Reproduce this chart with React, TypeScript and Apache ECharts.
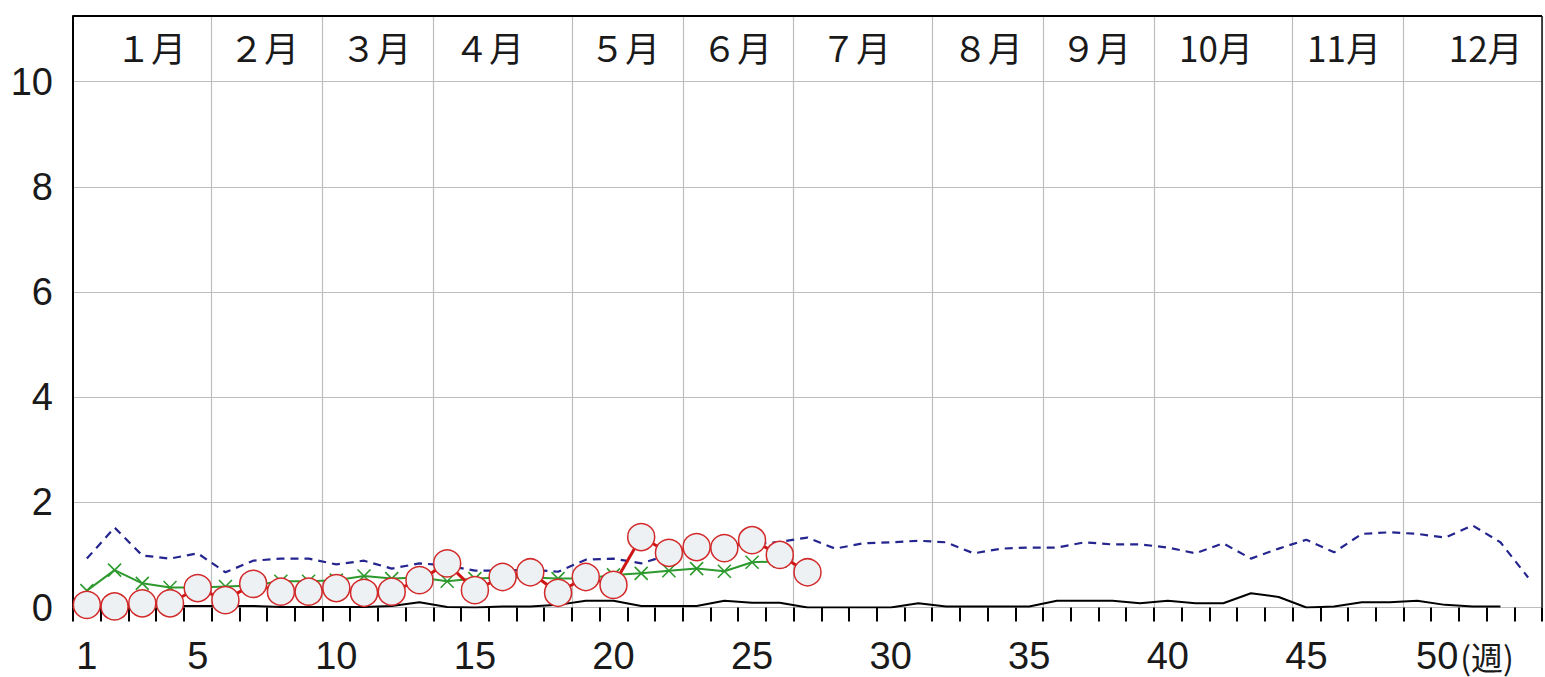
import React, { useEffect, useRef } from "react";
import * as echarts from "echarts";

// ---- data ----
const WEEKS: string[] = Array.from({ length: 53 }, (_, i) => String(i + 1));
const X_LABEL_WEEKS = ["1", "5", "10", "15", "20", "25", "30", "35", "40", "45", "50"];
const Y_TICKS = [0, 2, 4, 6, 8, 10];
const MONTHS = ["１月", "２月", "３月", "４月", "５月", "６月", "７月", "８月", "９月", "10月", "11月", "12月"];
// first week of each month (months 2..12 start a new split line)
const MONTH_FIRST_WEEK = [1, 6, 10, 14, 19, 23, 27, 32, 36, 40, 45, 49];
const WEEK_UNIT = "(週)";

// current year (red circles)
const CURRENT = [0.05, 0.02, 0.08, 0.08, 0.37, 0.14, 0.45, 0.3, 0.3, 0.37, 0.28, 0.3, 0.52, 0.84, 0.33, 0.58, 0.67, 0.28, 0.58, 0.43, 1.34, 1.04, 1.15, 1.13, 1.28, 1.0, 0.67];
// previous year (green x)
const PREVIOUS = [0.32, 0.71, 0.46, 0.38, 0.38, 0.4, 0.42, 0.5, 0.5, 0.52, 0.6, 0.55, 0.57, 0.5, 0.55, 0.57, 0.57, 0.55, 0.55, 0.62, 0.65, 0.7, 0.74, 0.69, 0.86, 0.88];
// average of past years (blue dashed)
const AVERAGE = [0.93, 1.52, 0.99, 0.93, 1.03, 0.67, 0.89, 0.93, 0.93, 0.82, 0.89, 0.74, 0.84, 0.8, 0.7, 0.7, 0.72, 0.68, 0.91, 0.93, 0.84, 1.0, 1.1, 1.15, 1.2, 1.25, 1.33, 1.12, 1.22, 1.24, 1.27, 1.24, 1.03, 1.12, 1.14, 1.14, 1.24, 1.2, 1.2, 1.14, 1.03, 1.22, 0.93, 1.12, 1.29, 1.05, 1.4, 1.43, 1.4, 1.33, 1.56, 1.24, 0.57];
// another reference year (black)
const OTHER = [0.03, 0.03, 0.03, 0.03, 0.03, 0.03, 0.03, 0.01, 0.01, 0.01, 0.01, 0.03, 0.1, 0.01, 0, 0.02, 0.02, 0.05, 0.13, 0.13, 0.03, 0.03, 0.03, 0.13, 0.09, 0.09, 0, 0, 0, 0, 0.08, 0.02, 0.02, 0.02, 0.02, 0.13, 0.13, 0.13, 0.08, 0.13, 0.08, 0.08, 0.27, 0.2, 0, 0.02, 0.1, 0.1, 0.13, 0.05, 0.02, 0.02];

// ---- layout ----
const W = 1545;
const H = 677;
const GRID_LEFT = 73;
const GRID_TOP = 16;
const GRID_RIGHT_X = 1542;
const GRID_BOTTOM_Y = 607.5;
const Y_MAX = 11.25;
// right edge of each month label, in week-band units from the left edge
const MONTH_LABEL_END = [4.08, 8.15, 12.2, 16.27, 21.18, 25.22, 29.51, 34.27, 38.17, 42.57, 47.19, 52.3];

const NUM_FONT = '"Liberation Sans Narrow", "Arial Narrow", "Liberation Sans", sans-serif';
const JP_FONT = '"Noto Sans CJK JP", sans-serif';
const LABEL_SIZE = 38;
const LAST_LABEL = X_LABEL_WEEKS[X_LABEL_WEEKS.length - 1];

export default function App() {
  const ref = useRef<HTMLDivElement>(null);

  useEffect(() => {
    if (!ref.current) return;
    const chart = echarts.init(ref.current, null, { renderer: "svg", width: W, height: H });
    const band = (GRID_RIGHT_X - GRID_LEFT) / WEEKS.length;
    const splitIdx = MONTH_FIRST_WEEK.slice(1).map((w) => w - 1);

    const graphics: any[] = [
      {
        type: "line",
        shape: { x1: GRID_LEFT, y1: GRID_TOP, x2: GRID_RIGHT_X, y2: GRID_TOP },
        style: { stroke: "#000", lineWidth: 2 },
        z: 100,
      },
      {
        type: "line",
        shape: { x1: GRID_RIGHT_X, y1: GRID_TOP, x2: GRID_RIGHT_X, y2: GRID_BOTTOM_Y },
        style: { stroke: "#111", lineWidth: 1.5 },
        z: 100,
      },
      ...MONTHS.map((m, i) => ({
        type: "text",
        x: GRID_LEFT + MONTH_LABEL_END[i] * band,
        y: 46,
        style: {
          text: m,
          font: `35px ${JP_FONT}`,
          fill: "#1a1a1a",
          textAlign: "right",
          textVerticalAlign: "middle",
        },
        z: 100,
      })),
    ];

    chart.setOption({
      animation: false,
      backgroundColor: "#fff",
      grid: {
        left: GRID_LEFT,
        top: GRID_TOP,
        right: W - GRID_RIGHT_X,
        bottom: H - GRID_BOTTOM_Y,
        containLabel: false,
      },
      xAxis: {
        type: "category",
        data: WEEKS,
        boundaryGap: true,
        axisLine: { show: true, lineStyle: { color: "#bdbdbd", width: 1 } },
        axisTick: { show: true, interval: 0, length: 14, lineStyle: { color: "#000", width: 2 } },
        axisLabel: {
          interval: (_i: number, v: string) => X_LABEL_WEEKS.includes(v),
          formatter: (v: string) => (v === LAST_LABEL ? `{n|${v}}{u|${WEEK_UNIT}}` : v),
          fontFamily: NUM_FONT,
          fontSize: LABEL_SIZE,
          color: "#1a1a1a",
          margin: 29,
          rich: {
            n: {
              fontFamily: NUM_FONT,
              fontSize: LABEL_SIZE,
              color: "#1a1a1a",
              padding: [0, 0, 0, 40],
            },
            u: {
              fontFamily: JP_FONT,
              fontSize: 32,
              color: "#1a1a1a",
              padding: [0, 0, 0, 2],
            },
          },
        },
        splitLine: {
          show: true,
          interval: (i: number) => splitIdx.includes(i),
          lineStyle: { color: "#bdbdbd", width: 1.2 },
        },
      },
      yAxis: {
        type: "value",
        min: 0,
        max: Y_MAX,
        interval: 2,
        axisLine: { show: true, lineStyle: { color: "#000", width: 2 } },
        axisTick: { show: false },
        axisLabel: {
          formatter: (v: number) => (Y_TICKS.includes(v) ? String(v) : ""),
          fontFamily: NUM_FONT,
          fontSize: LABEL_SIZE,
          color: "#1a1a1a",
          margin: 20,
        },
        splitLine: { show: true, lineStyle: { color: "#bdbdbd", width: 1.2 } },
      },
      series: [
        {
          name: "other",
          type: "line",
          data: OTHER,
          symbol: "none",
          lineStyle: { color: "#000", width: 2 },
          z: 1,
        },
        {
          name: "average",
          type: "line",
          data: AVERAGE,
          symbol: "none",
          lineStyle: { color: "#25258f", width: 2.2, type: [8, 6] },
          z: 2,
        },
        {
          name: "previous",
          type: "line",
          data: PREVIOUS,
          symbol: "path://M0,0L10,10M10,0L0,10",
          symbolSize: 13,
          showAllSymbol: true,
          itemStyle: { color: "rgba(0,0,0,0)", borderColor: "#2e9a2e", borderWidth: 1.6 },
          lineStyle: { color: "#2e9a2e", width: 2 },
          z: 3,
        },
        {
          name: "current",
          type: "line",
          data: CURRENT,
          symbol: "circle",
          symbolSize: 27,
          showAllSymbol: true,
          itemStyle: { color: "#eef1f3", borderColor: "#d22a2a", borderWidth: 1.5 },
          lineStyle: { color: "#d01414", width: 3 },
          z: 4,
        },
      ],
      graphic: graphics,
    });

    return () => chart.dispose();
  }, []);

  return (
    <div
      ref={ref}
      style={{ position: "fixed", left: 0, top: 0, width: W, height: H, background: "#fff" }}
    />
  );
}
